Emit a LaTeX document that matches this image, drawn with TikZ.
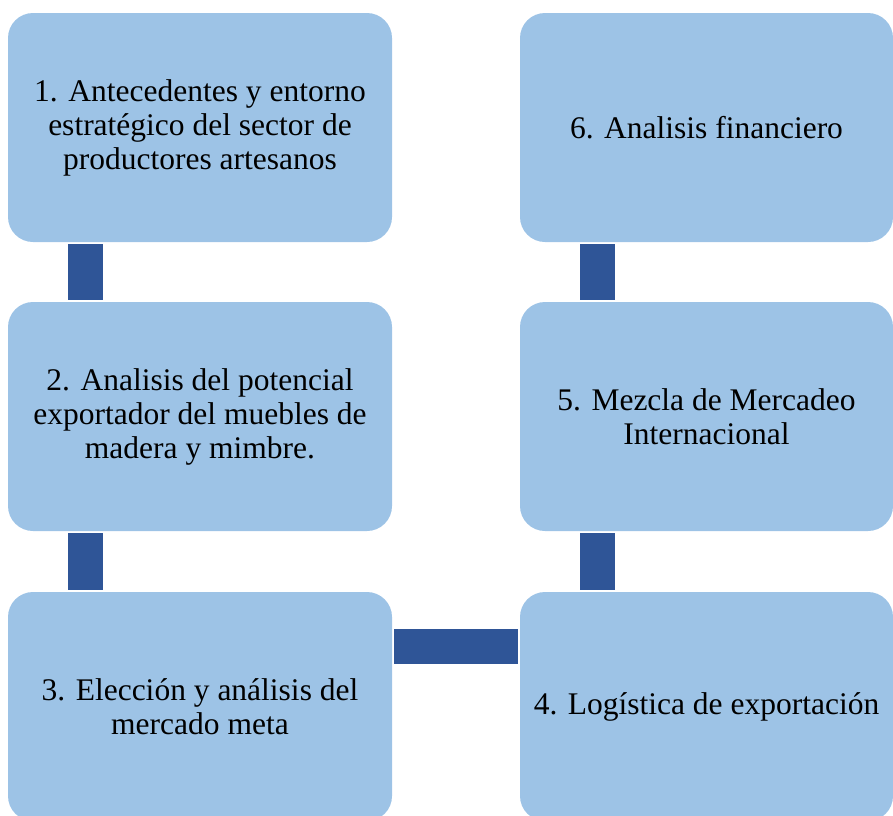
\documentclass[tikz,border=0pt]{standalone}
\usepackage{fontspec}
\setmainfont{Liberation Serif}
\usepackage{tikz}
\usetikzlibrary{positioning, calc}
\definecolor{boxBlue}{RGB}{157, 195, 230}
\definecolor{linkBlue}{RGB}{47, 85, 151}

\begin{document}
\begin{tikzpicture}[
    x=1pt, y=-1pt,
    font=\fontsize{31.5}{34}\selectfont,
    stagebox/.style={
        rectangle, rounded corners=25pt, fill=boxBlue, draw=none,
        minimum height=229pt, align=center, inner sep=0pt
    },
    link/.style={draw=linkBlue, line width=35pt, shorten <=2pt, shorten >=2pt}
]
\useasboundingbox (0,0) rectangle (893,815);

\node[stagebox, minimum width=384pt] (s1) at (200,127.5) {1. Antecedentes y entorno\\estratégico del sector de\\productores artesanos};
\node[stagebox, minimum width=384pt] (s2) at (200,416.5) {2. Analisis del potencial\\exportador del muebles de\\madera y mimbre.};
\node[stagebox, minimum width=384pt] (s3) at (200,706.5) {3. Elección y análisis del\\mercado meta};
\node[stagebox, minimum width=373pt] (s4) at (706.5,706.5) {4. Logística de exportación};
\node[stagebox, minimum width=373pt] (s5) at (706.5,416.5) {5. Mezcla de Mercadeo\\Internacional};
\node[stagebox, minimum width=373pt] (s6) at (706.5,127.5) {6. Analisis financiero};

\draw[link] ([xshift=77.5pt]s1.south west) -- ([xshift=77.5pt]s2.north west);
\draw[link] ([xshift=77.5pt]s2.south west) -- ([xshift=77.5pt]s3.north west);
\draw[link] ([yshift=-55pt]s3.north east) -- ([yshift=-55pt]s4.north west);
\draw[link] ([xshift=78pt]s4.north west) -- ([xshift=78pt]s5.south west);
\draw[link] ([xshift=78pt]s5.north west) -- ([xshift=78pt]s6.south west);
\end{tikzpicture}
\end{document}
